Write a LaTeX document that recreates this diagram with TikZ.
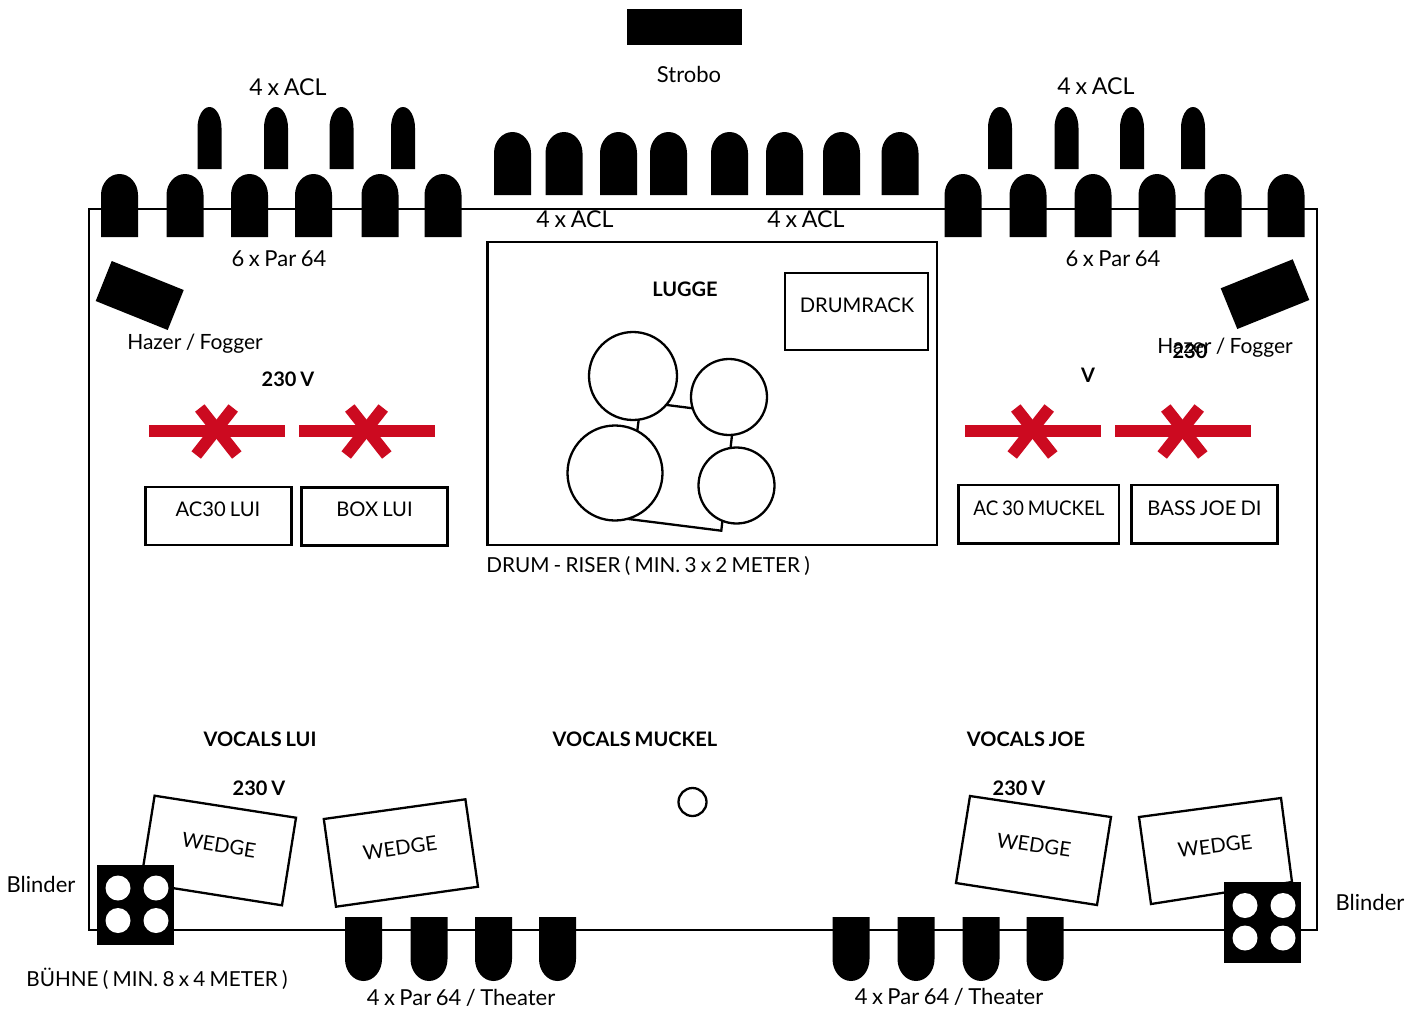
\documentclass[tikz,border=0pt]{standalone}
\usepackage{fontspec}
\setmainfont{Lato}[WordSpace=0.8]
\tikzset{plan/.style={color=black,line width=2.3}}
\tikzset{lbl/.style={inner sep=0pt, outer sep=0pt, font=\fontsize{22}{24}\selectfont}}
\tikzset{acllbl/.style={inner sep=0pt, outer sep=0pt, font=\fontsize{23.2}{24}\selectfont}}
\tikzset{hazerlbl/.style={inner sep=0pt, outer sep=0pt, font=\fontsize{21}{24}\selectfont}}
\tikzset{capslbl/.style={inner sep=0pt, outer sep=0pt, font=\fontsize{20.2}{24}\selectfont}}
\tikzset{longlbl/.style={inner sep=0pt, outer sep=0pt, font=\fontsize{20.7}{24}\selectfont}}
\tikzset{boldlbl/.style={inner sep=0pt, outer sep=0pt, font=\fontsize{20}{24}\selectfont\bfseries}}
\tikzset{drum/.style={circle, draw, fill=white, line width=2.3, inner sep=0pt, outer sep=0pt}}
\tikzset{hole/.style={circle, fill=white, inner sep=0pt, outer sep=0pt, minimum size=25}}
\definecolor{xred}{HTML}{CC0A20}
\tikzset{redbar/.style={color=xred,line width=12}}
\newcommand{\lampup}[4]{\fill (#1-#2,#4) -- (#1-#2,#3+21) arc[start angle=180,end angle=360,x radius=#2,y radius=21] -- (#1+#2,#4) -- cycle;}
\newcommand{\lampdown}[4]{\fill (#1-#2,#3) -- (#1-#2,#4-22) arc[start angle=180,end angle=0,x radius=#2,y radius=22] -- (#1+#2,#3) -- cycle;}
\newcommand{\crossbar}[1]{
  \draw[redbar] (#1-67.5,431) -- (#1+68.5,431);
  \draw[redbar] (#1-16.7,408) -- (#1+20.3,455);
  \draw[redbar] (#1+16.7,408) -- (#1-20.3,455);
}
\begin{document}
\begin{tikzpicture}[x=1pt,y=-1pt]
  \useasboundingbox (0,0) rectangle (1419,1010);
  \draw[plan] (89,209) rectangle (1317,930);

  % lamps
  \fill (627,9) rectangle (742,45);
  \foreach \x in {119.5,185,249.5,313.5,380,443,963,1028,1093,1157,1223,1286} {
    \lampup{\x}{18.5}{174}{237}
  }
  \foreach \x in {209.5,276,341.5,403,1000,1066.5,1132,1193} {
    \lampup{\x}{12}{107}{169}
  }
  \foreach \x in {512.5,564,618.5,668.5,729.5,784.5,841.5,900} {
    \lampup{\x}{18.5}{132}{195}
  }
  \foreach \x in {363.5,429,493.5,557.5,851,916,981,1045} {
    \lampdown{\x}{18.5}{917}{981}
  }
  \fill (111.7,261) -- (183.7,290) -- (167.7,330) -- (95.7,301) -- cycle;
  \fill (1292.7,259.3) -- (1309.3,300) -- (1237.3,329) -- (1220.7,288.3) -- cycle;

  % riser
  \draw[plan] (487.5,242) rectangle (937,545);
  \draw[plan] (785,273) rectangle (928,350);
  \draw[plan] (641,401.7) -- (734.4,413.6) -- (721.3,530.7) -- (626,518.7) -- cycle;
  \node[drum, minimum size=88] (tomA) at (633,376) {};
  \node[drum, minimum size=76] (tomB) at (729,397) {};
  \node[drum, minimum size=95] (kick) at (615,473) {};
  \node[drum, minimum size=76] (tomC) at (736.5,485.5) {};
  \node[circle, draw, line width=2.3, inner sep=0pt, minimum size=28] (mic) at (692.5,802) {};

  % amps
  \draw[plan] (145.5,487) rectangle (291.5,545);
  \draw[plan] (301.5,487.5) rectangle (447.5,545.5);
  \draw[plan] (958.5,485) rectangle (1119,543.5);
  \draw[plan] (1131.5,485) rectangle (1277.5,543.5);
  \foreach \x in {216.5,366.5,1032.5,1182.5} {
    \crossbar{\x}
  }

  % wedges
  \draw[plan] (154.6,795.7) -- (296,817.7) -- (282,905.3) -- (140.6,883) -- cycle;
  \draw[plan] (323.8,819) -- (465.4,799.3) -- (478,886.7) -- (336,906.7) -- cycle;
  \draw[plan] (970,796) -- (1111,817) -- (1097,905) -- (956,883) -- cycle;
  \draw[plan] (1139,817) -- (1281,798) -- (1292,882) -- (1151,904) -- cycle;

  % blinder
  \fill (97,865) rectangle (174,945);
  \fill (1224,882) rectangle (1301,963);
  \foreach \x/\y in {118/888,156/888,118/920.5,156/920.5,1245/905.5,1283/905.5,1245/938,1283/938} {
    \node[hole] (hole\x) at (\x,\y) {};
  }

  \node[lbl] (strobo) at (689,74.5) {Strobo};
  \node[acllbl] (aclA) at (288,87) {4 x ACL};
  \node[acllbl] (aclB) at (1096,86.5) {4 x ACL};
  \node[acllbl] (aclC) at (575,219.5) {4 x ACL};
  \node[acllbl] (aclD) at (806,219.5) {4 x ACL};
  \node[lbl] (parA) at (279,258.5) {6 x Par 64};
  \node[lbl] (parB) at (1113,259) {6 x Par 64};
  \node[hazerlbl] (hazerA) at (195,343.5) {Hazer / Fogger};
  \node[hazerlbl] (hazerB) at (1225,347.5) {Hazer / Fogger};
  \node[boldlbl] (lugge) at (685,289) {LUGGE};
  \node[capslbl] (rack) at (857,305.5) {DRUMRACK};
  \node[boldlbl] (voltA) at (288,379) {230 V};
  \node[boldlbl] (voltB) at (1190,351) {230};
  \node[boldlbl] (voltC) at (1088,375) {V};
  \node[capslbl] (acA) at (218,509.5) {AC30 LUI};
  \node[capslbl] (box) at (374.5,509.5) {BOX LUI};
  \node[capslbl, xscale=.93] (acB) at (1039,508.5) {AC 30 MUCKEL};
  \node[capslbl] (bass) at (1204.5,508.5) {BASS JOE DI};
  \node[longlbl] (riser) at (648,565.5) {DRUM - RISER ( MIN. 3 x 2 METER )};
  \node[boldlbl] (vocA) at (260,739) {VOCALS LUI};
  \node[boldlbl] (vocB) at (635,739) {VOCALS MUCKEL};
  \node[boldlbl] (vocC) at (1026,739) {VOCALS JOE};
  \node[boldlbl] (voltD) at (259,788) {230 V};
  \node[boldlbl] (voltE) at (1019,788) {230 V};
  \node[capslbl, rotate=-9] (wedgeA) at (219,845) {WEDGE};
  \node[capslbl, rotate=8] (wedgeB) at (400,848) {WEDGE};
  \node[capslbl, rotate=-8] (wedgeC) at (1034,845) {WEDGE};
  \node[capslbl, rotate=7] (wedgeD) at (1215,846) {WEDGE};
  \node[lbl] (blindA) at (41,884) {Blinder};
  \node[lbl] (blindB) at (1370,902) {Blinder};
  \node[longlbl] (stage) at (157,979) {BÜHNE ( MIN. 8 x 4 METER )};
  \node[lbl] (theaterA) at (461,998) {4 x Par 64 / Theater};
  \node[lbl] (theaterB) at (949,997) {4 x Par 64 / Theater};
\end{tikzpicture}
\end{document}
